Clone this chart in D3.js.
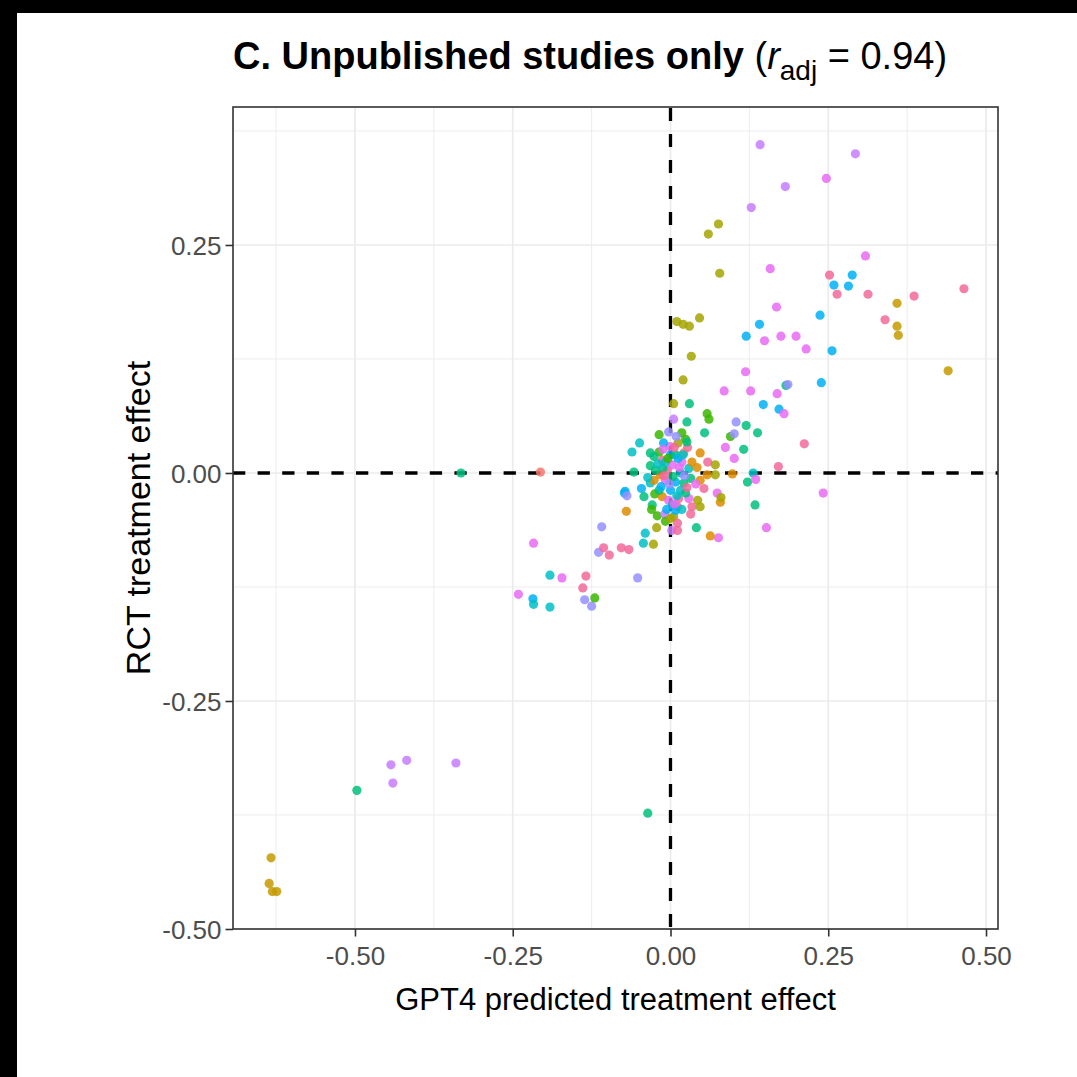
<!DOCTYPE html>
<html>
<head>
<meta charset="utf-8">
<script src="https://cdn.jsdelivr.net/npm/d3@7/dist/d3.min.js"></script>
<style>
  html, body { margin: 0; padding: 0; background: #ffffff; }
  svg { display: block; }
  text { font-family: "Liberation Sans", Arial, Helvetica, sans-serif; }
</style>
</head>
<body>
<svg id="chart" width="1077" height="1077"></svg>
<script>
// ---------------- DATA ----------------
const titleBold = "C. Unpublished studies only ";
const titleStat = { r: "r", sub: "adj", rest: " = 0.94)" };
const xLabel = "GPT4 predicted treatment effect";
const yLabel = "RCT treatment effect";

const xTicks = [-0.50, -0.25, 0.00, 0.25, 0.50];
const yTicks = [-0.50, -0.25, 0.00, 0.25];
const xMinor = [-0.625, -0.375, -0.125, 0.125, 0.375];
const yMinor = [-0.375, -0.125, 0.125, 0.375];

// study colour groups (ggplot hue-like)
const groupColors = ["#F8766D", "#DE8C00", "#C49A00", "#A3A500", "#39B600", "#00BF7D",
                     "#00BFC4", "#00B0F6", "#9590FF", "#C77CFF", "#E76BF3", "#F2689A"];

// GPT4 predicted effect (x)
const gptPredicted = [
  // lower-left outliers
  -0.633, -0.636, -0.631, -0.624, -0.497, -0.443, -0.418, -0.440, -0.340, -0.036, -0.332, -0.206,
  // left-middle arm
  -0.073, -0.070, -0.109, -0.217, -0.114, -0.106, -0.097, -0.078, -0.066, -0.191, -0.172, -0.134,
  -0.139, -0.241, -0.218, -0.217, -0.191, -0.136, -0.125, -0.120, -0.052, -0.043, -0.027,
  // upper-right arm
  0.142, 0.293, 0.247, 0.182, 0.128, 0.076, 0.060, 0.078, 0.309, 0.158, 0.252, 0.288, 0.259, 0.282,
  0.264, 0.313, 0.386, 0.465, 0.359, 0.168, 0.340, 0.359, 0.361, 0.237, 0.141, 0.046, 0.010, 0.020,
  0.030, 0.120, 0.149, 0.175, 0.199, 0.215, 0.256, 0.033, 0.440, 0.119, 0.020, 0.239, 0.085, 0.127,
  0.183, 0.186, 0.169, 0.147, 0.172, 0.180, 0.104, 0.120, 0.138, 0.095, 0.101, 0.116, 0.087, 0.101,
  0.212, 0.171, 0.131, 0.098, 0.122, 0.135, 0.242, 0.134, 0.074, 0.079, 0.080, 0.076, 0.063, 0.152,
  // central cluster
  0.005, 0.030, 0.058, 0.061, 0.005, 0.026, 0.054, 0.018, -0.003, -0.018, 0.024, -0.049, -0.061,
  -0.032, 0.027, 0.012, 0.047, 0.059, -0.058, -0.032, -0.013, 0.000, -0.005, 0.003, 0.018, 0.016,
  0.029, -0.016, -0.008, 0.008, 0.021, 0.042, 0.058, 0.071, -0.072, -0.069, -0.046, -0.032,
  -0.025, -0.013, -0.042, -0.029, -0.021, -0.009, 0.011, 0.013, 0.005, 0.011, -0.022, 0.041, 0.029,
  0.043, 0.034, 0.000, -0.003, -0.018, 0.016, 0.003, -0.012, -0.024, 0.032, 0.021, -0.001, -0.011,
  0.009, 0.008, -0.008, 0.002, 0.011, -0.026, 0.047, 0.053, 0.024, -0.008, 0.008, -0.018, 0.071,
  0.047, -0.040,
  // dense core
  -0.020, -0.010, 0.004, 0.014, 0.022, -0.015, 0.010, 0.026, -0.004, 0.006, -0.026, 0.034, 0.018,
  -0.006, 0.000, 0.032, -0.036, 0.040, 0.012, -0.012, 0.020, -0.002, 0.006, 0.026, -0.030
];

// RCT treatment effect (y)
const rctEffect = [
  // lower-left outliers
  -0.422, -0.450, -0.459, -0.459, -0.348, -0.320, -0.315, -0.340, -0.318, -0.373, 0.000, 0.001,
  // left-middle arm
  -0.022, -0.042, -0.059, -0.077, -0.087, -0.082, -0.090, -0.082, -0.084, -0.112, -0.115, -0.113,
  -0.126, -0.133, -0.138, -0.144, -0.147, -0.139, -0.146, -0.137, -0.115, -0.077, -0.078,
  // upper-right arm
  0.360, 0.350, 0.323, 0.314, 0.291, 0.273, 0.262, 0.219, 0.238, 0.224, 0.217, 0.217, 0.206, 0.205,
  0.196, 0.196, 0.194, 0.202, 0.186, 0.182, 0.168, 0.161, 0.151, 0.173, 0.163, 0.170, 0.166, 0.163,
  0.161, 0.150, 0.145, 0.150, 0.150, 0.136, 0.134, 0.128, 0.112, 0.111, 0.102, 0.099, 0.090, 0.090,
  0.096, 0.097, 0.087, 0.075, 0.070, 0.065, 0.056, 0.052, 0.044, 0.040, 0.043, 0.026, 0.028, 0.016,
  0.032, 0.007, 0.000, -0.001, -0.010, -0.007, -0.022, -0.035, -0.022, -0.032, -0.027, -0.071, -0.069, -0.060,
  // central cluster
  0.076, 0.076, 0.065, 0.059, 0.059, 0.056, 0.044, 0.044, 0.045, 0.042, 0.037, 0.033, 0.023,
  0.022, 0.028, 0.033, 0.022, 0.012, 0.001, 0.008, 0.014, 0.020, 0.003, 0.009, 0.012, 0.000,
  0.005, -0.002, -0.008, -0.010, -0.011, 0.006, -0.002, -0.002, -0.020, -0.025, -0.017, -0.011,
  -0.023, -0.026, -0.026, -0.035, -0.047, -0.045, -0.037, -0.028, -0.048, -0.055, -0.060, -0.060, -0.028,
  -0.030, -0.037, -0.019, -0.030, -0.019, -0.019, -0.035, 0.005, 0.003, -0.006, 0.022, 0.029, 0.033,
  0.040, -0.041, -0.053, -0.063, -0.063, -0.008, -0.008, -0.017, -0.022, 0.012, 0.020, 0.023, 0.009,
  -0.037, -0.066,
  // dense core
  0.010, -0.003, -0.004, 0.006, -0.003, -0.015, -0.025, -0.016, 0.016, 0.028, 0.018, 0.012, -0.040,
  -0.040, -0.050, -0.045, -0.005, -0.012, 0.016, 0.026, 0.020, -0.012, -0.034, 0.034, -0.040
];

// colour group of each study (index into groupColors)
const studyGroup = [
  // lower-left outliers
  2, 2, 2, 2, 5, 9, 9, 9, 9, 5, 5, 0,
  // left-middle arm
  7, 1, 8, 10, 8, 11, 11, 11, 11, 6, 10, 11,
  11, 10, 7, 6, 6, 8, 8, 4, 8, 6, 3,
  // upper-right arm
  9, 9, 10, 9, 9, 3, 3, 3, 10, 10, 11, 7, 7, 7,
  11, 11, 11, 11, 2, 10, 11, 2, 2, 7, 7, 3, 3, 3,
  3, 7, 10, 10, 10, 10, 7, 3, 2, 10, 3, 7, 10, 10,
  5, 8, 10, 7, 7, 10, 8, 5, 5, 4, 8, 5, 10, 10,
  11, 11, 6, 1, 5, 10, 10, 5, 10, 1, 3, 10, 1, 10,
  // central cluster
  3, 5, 4, 4, 9, 5, 5, 4, 8, 4, 4, 6, 6,
  5, 11, 3, 1, 11, 5, 5, 11, 7, 11, 10, 10, 6,
  6, 1, 10, 7, 5, 1, 1, 3, 7, 8, 7, 6,
  4, 1, 5, 5, 4, 9, 11, 11, 3, 11, 3, 5, 10,
  3, 11, 7, 10, 5, 6, 6, 5, 5, 5, 0, 10, 7,
  8, 7, 4, 9, 11, 1, 1, 11, 5, 6, 5, 4, 3,
  3, 6,
  // dense core
  6, 11, 5, 10, 8, 7, 6, 11, 4, 11, 5, 1, 6,
  7, 3, 11, 6, 10, 7, 10, 6, 8, 10, 5, 4
];

// ---------------- LAYOUT ----------------
const svg = d3.select("#chart");
const W = 1077, H = 1077;
const panel = { left: 233, right: 998, top: 107, bottom: 929 };

svg.append("rect").attr("x", 0).attr("y", 0).attr("width", W).attr("height", H).attr("fill", "#ffffff");
// black framing bands of the screenshot
svg.append("rect").attr("x", 0).attr("y", 0).attr("width", W).attr("height", 13).attr("fill", "#000");
svg.append("rect").attr("x", 0).attr("y", 0).attr("width", 17).attr("height", H).attr("fill", "#000");

const x = d3.scaleLinear().domain([-0.6933, 0.519]).range([panel.left, panel.right]);
const y = d3.scaleLinear().domain([-0.5, 0.4013]).range([panel.bottom, panel.top]);

const g = svg.append("g");

// grid
const grid = g.append("g");
grid.selectAll(".vminor").data(xMinor).join("line")
  .attr("x1", d => x(d)).attr("x2", d => x(d)).attr("y1", panel.top).attr("y2", panel.bottom)
  .attr("stroke", "#EBEBEB").attr("stroke-width", 0.9);
grid.selectAll(".hminor").data(yMinor).join("line")
  .attr("x1", panel.left).attr("x2", panel.right).attr("y1", d => y(d)).attr("y2", d => y(d))
  .attr("stroke", "#EBEBEB").attr("stroke-width", 0.9);
grid.selectAll(".vmajor").data(xTicks).join("line")
  .attr("x1", d => x(d)).attr("x2", d => x(d)).attr("y1", panel.top).attr("y2", panel.bottom)
  .attr("stroke", "#EBEBEB").attr("stroke-width", 1.7);
grid.selectAll(".hmajor").data(yTicks).join("line")
  .attr("x1", panel.left).attr("x2", panel.right).attr("y1", d => y(d)).attr("y2", d => y(d))
  .attr("stroke", "#EBEBEB").attr("stroke-width", 1.7);

// reference lines at zero
g.append("line")
  .attr("x1", panel.left).attr("x2", panel.right).attr("y1", y(0)).attr("y2", y(0))
  .attr("stroke", "#000").attr("stroke-width", 3.3).attr("stroke-dasharray", "12.3,12.3");
g.append("line")
  .attr("x1", x(0)).attr("x2", x(0)).attr("y1", panel.bottom - 2).attr("y2", panel.top)
  .attr("stroke", "#000").attr("stroke-width", 3.3).attr("stroke-dasharray", "13,13");

// points
const pts = gptPredicted.map((v, i) => ({ x: v, y: rctEffect[i], g: studyGroup[i] }));
g.append("g").selectAll("circle").data(pts).join("circle")
  .attr("cx", d => x(d.x)).attr("cy", d => y(d.y)).attr("r", 4.6)
  .attr("fill", d => groupColors[d.g]).attr("fill-opacity", 0.85);

// panel border
g.append("rect")
  .attr("x", panel.left).attr("y", panel.top)
  .attr("width", panel.right - panel.left).attr("height", panel.bottom - panel.top)
  .attr("fill", "none").attr("stroke", "#333333").attr("stroke-width", 1.6);

// axes
const fmt = d => d.toFixed(2);
const xAxis = g.append("g").attr("transform", `translate(0,${panel.bottom})`)
  .call(d3.axisBottom(x).tickValues(xTicks).tickFormat(fmt).tickSize(7.5).tickPadding(10));
const yAxis = g.append("g").attr("transform", `translate(${panel.left},0)`)
  .call(d3.axisLeft(y).tickValues(yTicks).tickFormat(fmt).tickSize(7.5).tickPadding(4));
[xAxis, yAxis].forEach(a => {
  a.select(".domain").remove();
  a.selectAll(".tick line").attr("stroke", "#333333").attr("stroke-width", 1.6);
  a.selectAll(".tick text").attr("fill", "#4D4D4D")
    .style("font-size", "26px").style("font-family", '"Liberation Sans", Arial, Helvetica, sans-serif');
});
yAxis.selectAll(".tick text").attr("dy", "0.36em");

// axis titles
svg.append("text")
  .attr("x", (panel.left + panel.right) / 2).attr("y", 1010)
  .attr("text-anchor", "middle").attr("fill", "#000")
  .style("font-size", "31px").text(xLabel);
svg.append("text")
  .attr("transform", `translate(150,${(panel.top + panel.bottom) / 2}) rotate(-90)`)
  .attr("text-anchor", "middle").attr("fill", "#000")
  .style("font-size", "34px").text(yLabel);

// title
const title = svg.append("text").attr("x", 233).attr("y", 69).attr("fill", "#000").style("font-size", "38px");
title.append("tspan").style("font-weight", "bold").text(titleBold);
title.append("tspan").text("(");
title.append("tspan").style("font-style", "italic").text(titleStat.r);
title.append("tspan").attr("dy", 11).style("font-size", "28px").text(titleStat.sub);
title.append("tspan").attr("dy", -11).text(titleStat.rest);
</script>
</body>
</html>
